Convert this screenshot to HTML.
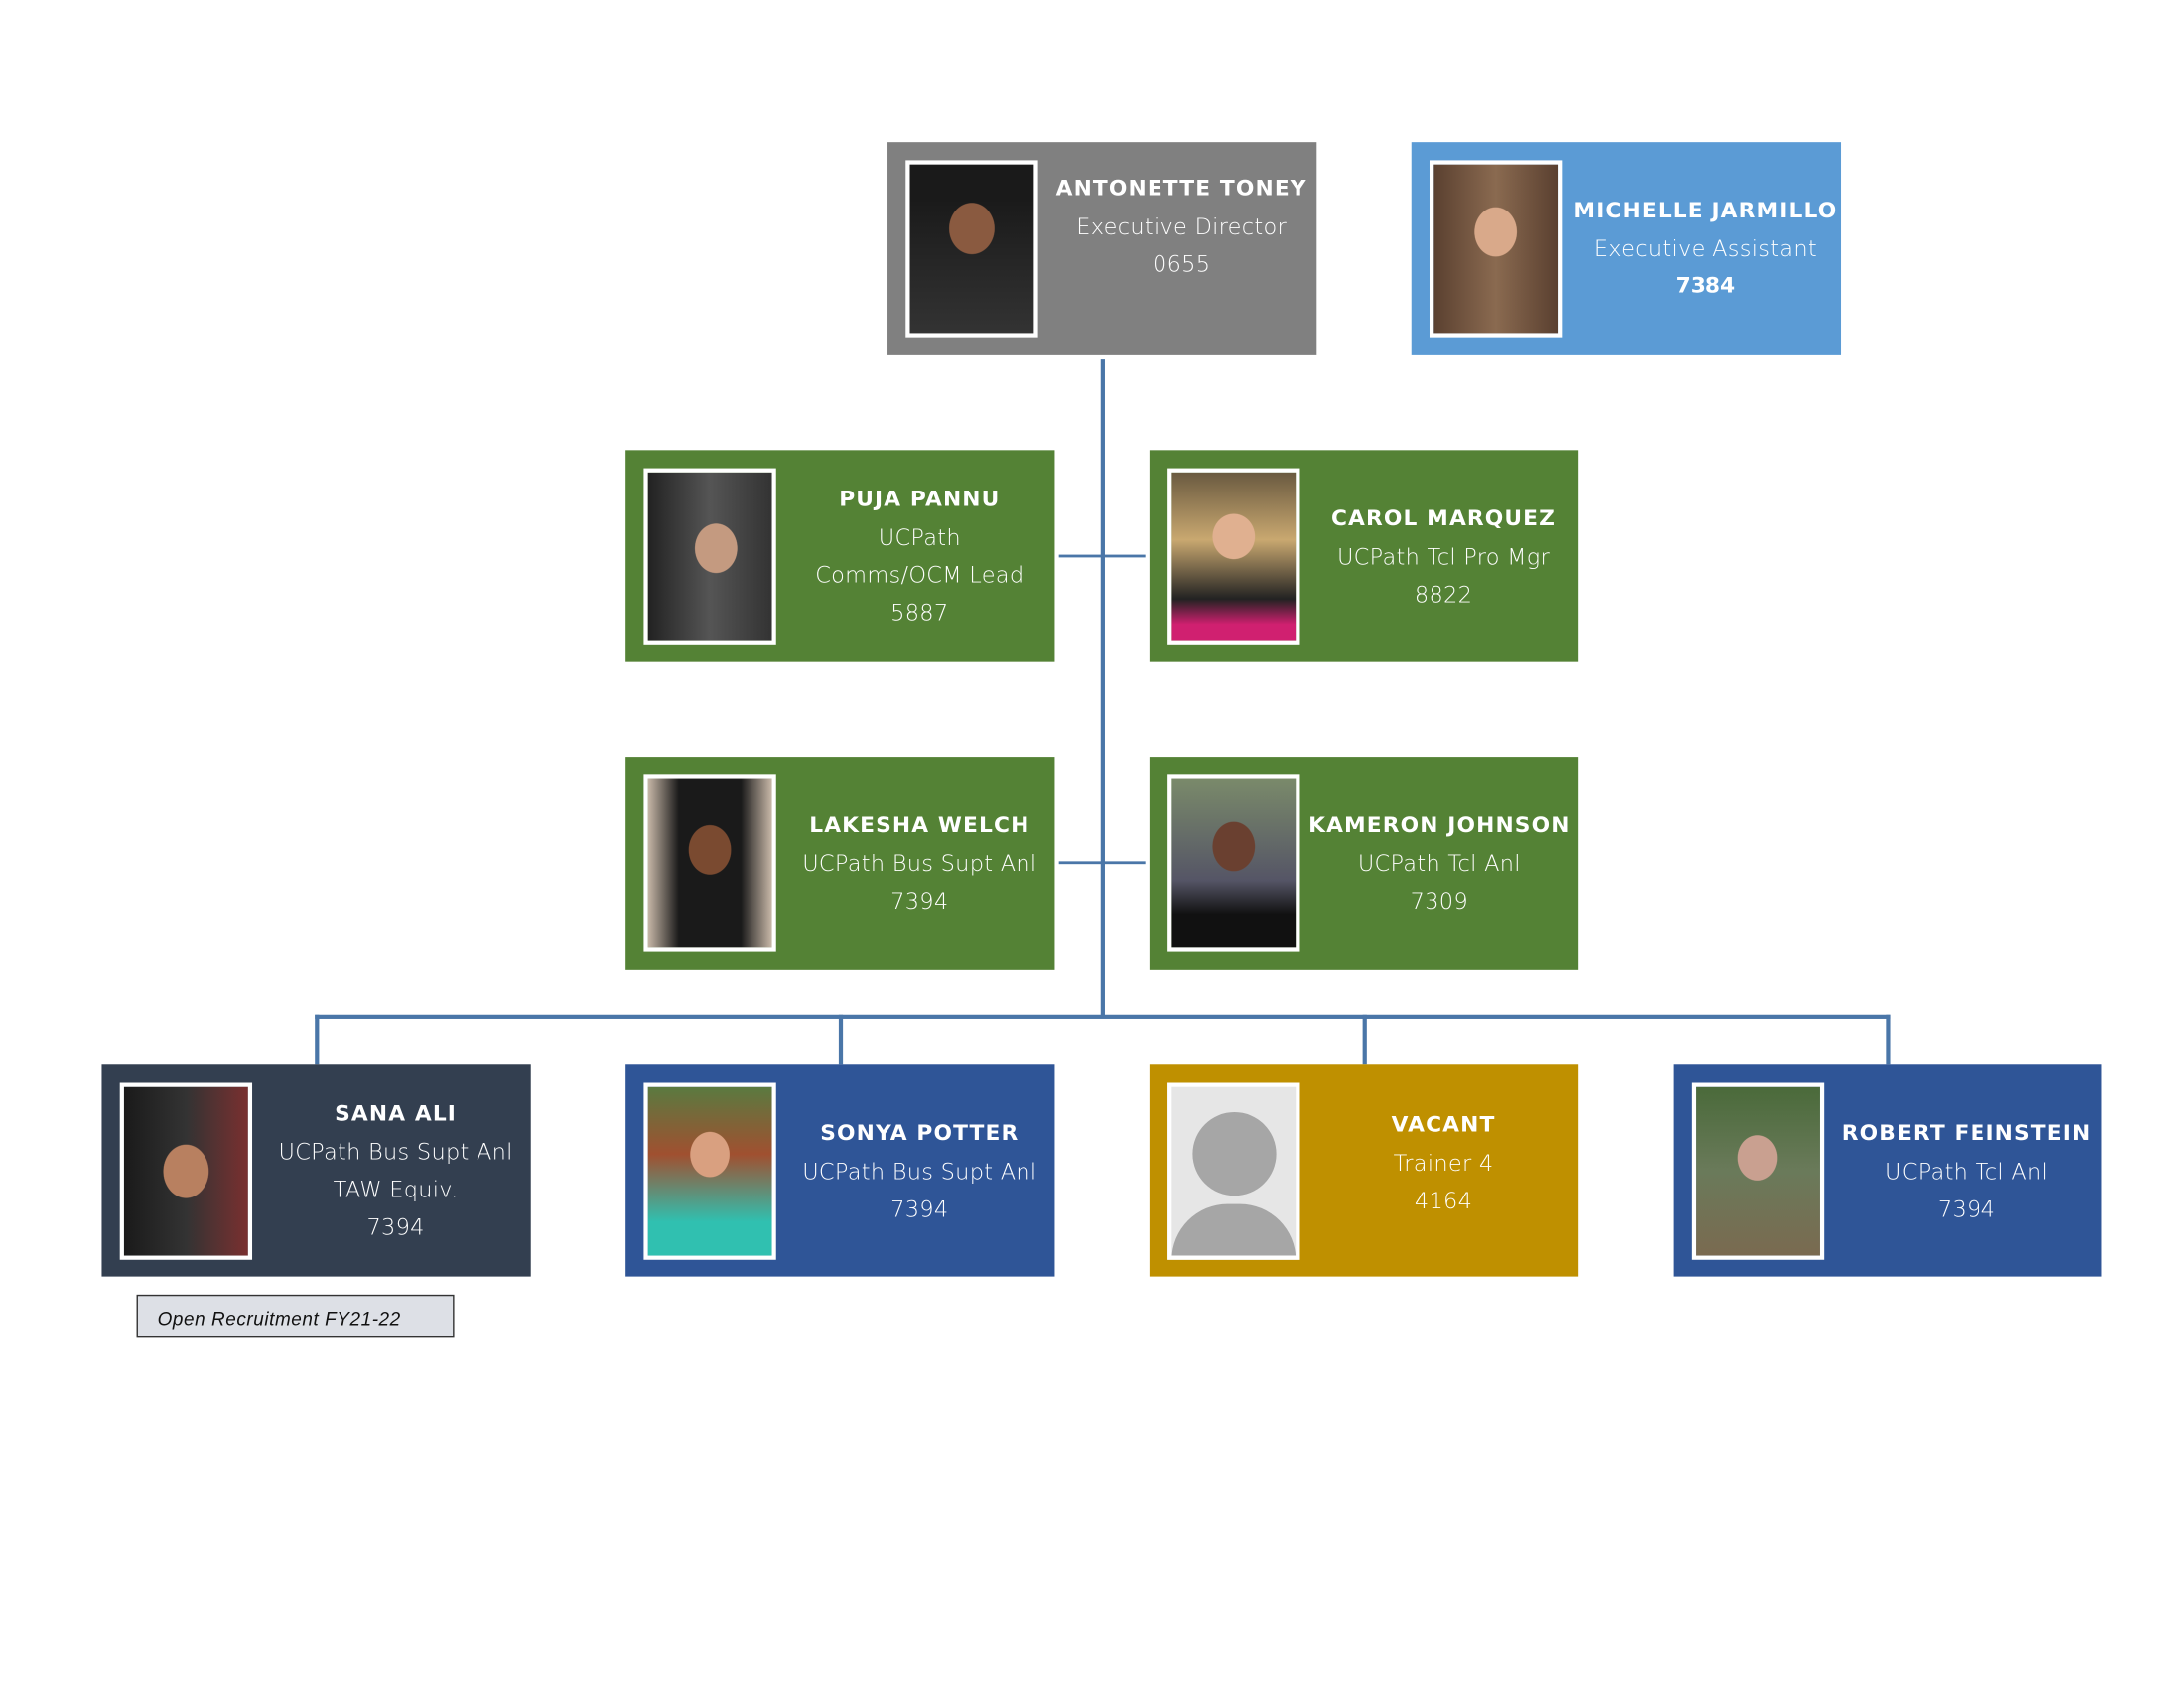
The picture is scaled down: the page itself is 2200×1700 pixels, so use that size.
<!DOCTYPE html>
<html><head><meta charset="utf-8"><style>
html,body{margin:0;padding:0;background:#fff;}
#wrap{width:2200px;height:1700px;overflow:hidden;position:relative;}
#c{position:absolute;left:0;top:0;width:1570px;height:1212px;transform:scale(1.4035);transform-origin:0 0;font-family:"DejaVu Sans","Liberation Sans",sans-serif;}
.b{position:absolute;width:308px;height:152px;color:#fff;}
.p{position:absolute;left:13px;top:13px;width:89px;height:121px;border:3px solid #fff;overflow:hidden;}
.t{position:absolute;left:114px;right:0;top:0;bottom:0;display:flex;flex-direction:column;justify-content:center;align-items:center;text-align:center;font-size:16px;line-height:27px;font-weight:300;letter-spacing:0.2px;white-space:nowrap;}
.t b{font-size:15.5px;letter-spacing:0.8px;font-weight:bold;}
.l{position:absolute;background:#4a76a8;}
.gray{background:#808080}.lb{background:#5b9bd5}.gr{background:#548235}.dk{background:#333f50}.bl{background:#2f5597}.gd{background:#bf9000}
</style></head><body><div id="wrap"><div id="c">
<div class="l" style="left:790px;top:258px;width:3px;height:472px"></div>
<div class="l" style="left:760px;top:398px;width:62px;height:2px"></div>
<div class="l" style="left:760px;top:618px;width:62px;height:2px"></div>
<div class="l" style="left:226px;top:728px;width:1131px;height:3px"></div>
<div class="l" style="left:226px;top:728px;width:3px;height:36px"></div>
<div class="l" style="left:602px;top:728px;width:3px;height:36px"></div>
<div class="l" style="left:978px;top:728px;width:3px;height:36px"></div>
<div class="l" style="left:1354px;top:728px;width:3px;height:36px"></div>

<div class="b gray" style="left:637px;top:102px;height:153px"><div class="p" style="background:radial-gradient(ellipse 30% 25% at 50% 38%,#8a5a40 60%,transparent 62%),linear-gradient(#1a1a1a 0 20%,#333 100%)"></div><div class="t" style="justify-content:flex-start;padding-top:20px"><b>ANTONETTE TONEY</b><span>Executive Director</span><span>0655</span></div></div>
<div class="b lb" style="left:1013px;top:102px;height:153px"><div class="p" style="background:radial-gradient(ellipse 28% 24% at 50% 40%,#d9a98a 60%,transparent 62%),linear-gradient(90deg,#5a4030,#8a6a50 50%,#5a4030)"></div><div class="t"><b>MICHELLE JARMILLO</b><span>Executive Assistant</span><b style="letter-spacing:0">7384</b></div></div>

<div class="b gr" style="left:449px;top:323px"><div class="p" style="background:radial-gradient(ellipse 28% 24% at 55% 45%,#c49a80 60%,transparent 62%),linear-gradient(90deg,#222,#555 50%,#333)"></div><div class="t"><b>PUJA PANNU</b><span>UCPath</span><span>Comms/OCM Lead</span><span>5887</span></div></div>
<div class="b gr" style="left:825px;top:323px"><div class="p" style="background:radial-gradient(ellipse 28% 22% at 50% 38%,#e0b090 60%,transparent 62%),linear-gradient(#6a5a40,#c9a870 40%,#222 75%,#d02070 90%)"></div><div class="t"><b>CAROL MARQUEZ</b><span>UCPath Tcl Pro Mgr</span><span>8822</span></div></div>

<div class="b gr" style="left:449px;top:543px;height:153px"><div class="p" style="background:radial-gradient(ellipse 28% 24% at 50% 42%,#7a4a30 60%,transparent 62%),linear-gradient(90deg,#c8b8a8,#1a1a1a 25%,#1a1a1a 75%,#c8b8a8)"></div><div class="t"><b>LAKESHA WELCH</b><span>UCPath Bus Supt Anl</span><span>7394</span></div></div>
<div class="b gr" style="left:825px;top:543px;height:153px"><div class="p" style="background:radial-gradient(ellipse 28% 24% at 50% 40%,#6a4030 60%,transparent 62%),linear-gradient(#7a8a6a,#556 60%,#111 80%)"></div><div class="t" style="left:108px"><b>KAMERON JOHNSON</b><span>UCPath Tcl Anl</span><span>7309</span></div></div>

<div class="b dk" style="left:73px;top:764px"><div class="p" style="background:radial-gradient(ellipse 30% 26% at 50% 50%,#b88060 60%,transparent 62%),linear-gradient(90deg,#1a1a1a,#333 50%,#7a3030)"></div><div class="t"><b>SANA ALI</b><span>UCPath Bus Supt Anl</span><span>TAW Equiv.</span><span>7394</span></div></div>
<div class="b bl" style="left:449px;top:764px"><div class="p" style="background:radial-gradient(ellipse 26% 22% at 50% 40%,#d9a080 60%,transparent 62%),linear-gradient(#5a7a40,#a05030 40%,#30c0b0 80%)"></div><div class="t"><b>SONYA POTTER</b><span>UCPath Bus Supt Anl</span><span>7394</span></div></div>
<div class="b gd" style="left:825px;top:764px"><div class="p" style="background:#e6e6e6"><div style="position:absolute;left:15px;top:18px;width:60px;height:60px;border-radius:50%;background:#a6a6a6"></div><div style="position:absolute;left:0;top:84px;width:89px;height:60px;border-radius:40px 40px 0 0;background:#a6a6a6"></div></div><div class="t" style="padding-bottom:12px"><b>VACANT</b><span>Trainer 4</span><span>4164</span></div></div>
<div class="b bl" style="left:1201px;top:764px;width:307px"><div class="p" style="background:radial-gradient(ellipse 26% 22% at 50% 42%,#c9a090 60%,transparent 62%),linear-gradient(#4a6a3a,#6a7a5a 50%,#7a6a50)"></div><div class="t"><b>ROBERT FEINSTEIN</b><span>UCPath Tcl Anl</span><span>7394</span></div></div>

<div style="position:absolute;left:98px;top:929px;width:228px;height:31px;border:1px solid #333;background:#dde0e6;font-family:'Liberation Sans',sans-serif;font-style:italic;font-size:13.5px;line-height:33px;padding-left:14px;box-sizing:border-box;color:#111;letter-spacing:0.4px">Open Recruitment FY21-22</div>
</div></div></body></html>
